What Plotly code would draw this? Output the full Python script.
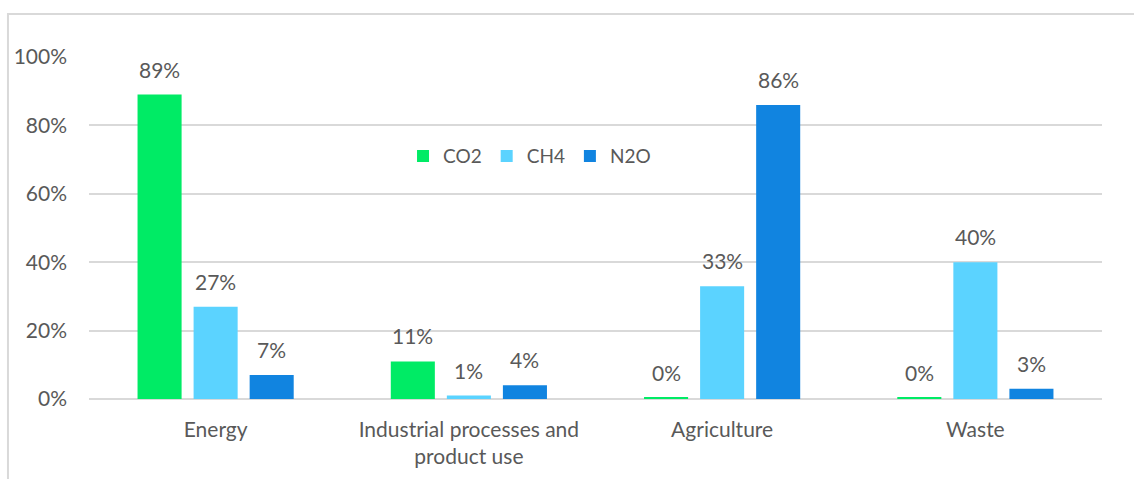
import plotly.graph_objects as go

# Share of each gas by emission sector (%)
sectors = ["Energy", "Industrial processes and<br>product use", "Agriculture", "Waste"]
co2 = [89, 11, 0.4, 0.4]
ch4 = [27, 1, 33, 40]
n2o = [7, 4, 86, 3]

series = [
    ("CO2", co2, "#00EB65"),
    ("CH4", ch4, "#5BD3FF"),
    ("N2O", n2o, "#1184E0"),
]

FONT = "Lato"
FS = 21
TEXT = "#595959"
GRID = "#D9D9D9"
SLOT_PX = 56  # horizontal distance between neighbouring bars within a group

fig = go.Figure()
for i, (name, vals, color) in enumerate(series):
    fig.add_trace(go.Bar(
        name=name,
        x=sectors,
        y=vals,
        marker=dict(color=color, line=dict(width=0)),
    ))
    # value labels floating above each bar
    for s, v in zip(sectors, vals):
        fig.add_annotation(
            x=s, y=v, xref="x", yref="y",
            xshift=(i - 1) * SLOT_PX, yshift=11,
            yanchor="bottom", xanchor="center",
            text=f"{v:.0f}%", showarrow=False,
            font=dict(family=FONT, size=FS, color=TEXT),
        )

fig.update_layout(
    width=1134,
    height=479,
    margin=dict(l=89, r=32, t=57, b=80),
    paper_bgcolor="white",
    plot_bgcolor="white",
    barmode="group",
    bargap=0.336,
    bargroupgap=0.214,
    font=dict(family=FONT, size=FS, color=TEXT),
    showlegend=True,
    legend=dict(
        orientation="h",
        x=0.31, xanchor="left",
        y=0.71, yanchor="middle",
        font=dict(family=FONT, size=19, color=TEXT),
        itemwidth=30,
        traceorder="normal",
        bgcolor="rgba(0,0,0,0)",
    ),
)

fig.update_yaxes(
    range=[0, 100],
    tickvals=[0, 20, 40, 60, 80, 100],
    ticktext=["0%", "20%", "40%", "60%", "80%", "100%"],
    showgrid=True,
    gridcolor=GRID,
    gridwidth=1.5,
    zeroline=True,
    zerolinecolor=GRID,
    zerolinewidth=1.5,
    showline=False,
    ticks="",
    ticklabelstandoff=21,
    tickfont=dict(family=FONT, size=FS, color=TEXT),
    fixedrange=True,
)
fig.update_xaxes(
    showgrid=False,
    showline=False,
    ticks="",
    ticklabelstandoff=16,
    tickfont=dict(family=FONT, size=FS, color=TEXT),
    fixedrange=True,
)

# Light frame around the chart area
fig.add_shape(
    type="rect", xref="paper", yref="paper",
    x0=-0.08, x1=1.05, y0=-0.3, y1=1.126,
    line=dict(color=GRID, width=2),
    fillcolor="rgba(0,0,0,0)",
    layer="below",
)

fig.write_html("out.html")
